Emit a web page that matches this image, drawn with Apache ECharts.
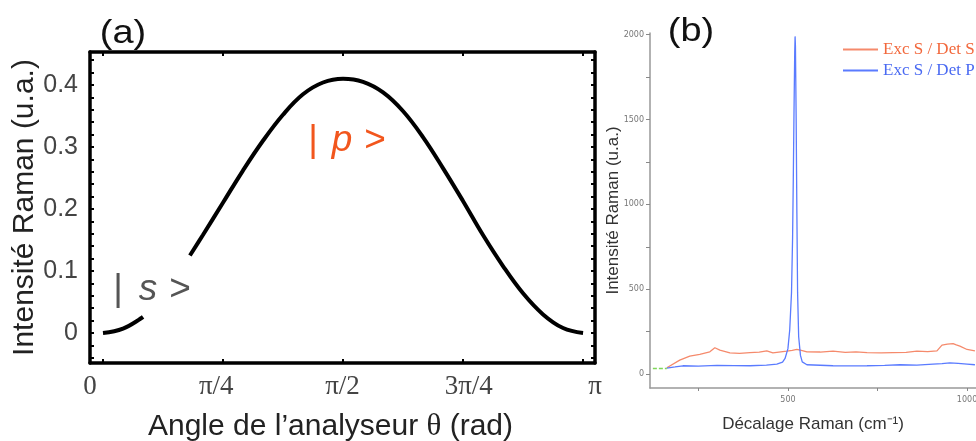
<!DOCTYPE html>
<html>
<head>
<meta charset="utf-8">
<script src="https://cdn.jsdelivr.net/npm/echarts@6/dist/echarts.min.js"></script>
<style>html,body{margin:0;padding:0;background:#fff;}#c{width:976px;height:441px;}</style>
</head>
<body>
<div id="c"></div>
<script>
// ---------- Panel (a) data ----------
const thetaA = [0, 0.131, 0.262, 0.393, 0.569, 0.654, 0.785, 0.916, 1.047, 1.178, 1.309, 1.44, 1.571, 1.702, 1.833, 1.963, 2.094, 2.225, 2.356, 2.487, 2.618, 2.749, 2.880, 3.011, 3.142];
const intensA = [0, 0.007, 0.026, '-', 0.125, 0.158, 0.21, 0.262, 0.31, 0.352, 0.385, 0.404, 0.41, 0.405, 0.388, 0.358, 0.316, 0.266, 0.213, 0.158, 0.108, 0.064, 0.03, 0.008, 0];
const xTickValuesA = [0, 0.7854, 1.5708, 2.3562, 3.1416];
const xTickLabelsA = ['0', 'π/4', 'π/2', '3π/4', 'π'];
const yLabelValuesA = [0, 0.1, 0.2, 0.3, 0.4];
const yTickValuesA = [-0.04, -0.02, 0, 0.02, 0.04, 0.06, 0.08, 0.1, 0.12, 0.14, 0.16, 0.18, 0.2, 0.22, 0.24, 0.26, 0.28, 0.3, 0.32, 0.34, 0.36, 0.38, 0.4, 0.42, 0.44];

// ---------- Panel (b) data ----------
const shiftRed = [162, 198, 226, 254, 282, 296, 310, 338, 365, 394, 420, 441, 458, 480, 497, 512, 525, 540, 553, 590, 626, 660, 690, 721, 760, 793, 830, 860, 890, 916, 930, 945, 961, 970, 980, 1000, 1022];
const intensRed = [37, 82, 106, 116, 131, 155, 141, 125, 122, 127, 129, 137, 125, 131, 135, 140, 145, 138, 131, 130, 135, 128, 131, 127, 125, 127, 128, 135, 132, 137, 171, 176, 180, 172, 165, 145, 137];
const shiftBlue = [162, 185, 207, 250, 302, 350, 394, 440, 469, 485, 492, 500, 505, 510, 513, 515, 517, 519, 520, 521, 523, 525, 527, 530, 535, 540, 553, 590, 626, 680, 721, 770, 813, 860, 905, 930, 952, 975, 1000, 1022];
const intensBlue = [35, 42, 49, 47, 51, 50, 49, 53, 59, 70, 92, 150, 260, 480, 800, 1150, 1550, 1900, 1990, 1930, 1500, 950, 480, 220, 110, 72, 55, 52, 49, 48, 49, 51, 55, 53, 59, 62, 66, 63, 59, 55];
const shiftGreen = [123, 162];
const intensGreen = [33, 33];
const xTickValuesB = [250, 500, 750, 1000];
const xLabelValuesB = [500, 1000];
const yTickValuesB = [0, 250, 500, 750, 1000, 1250, 1500, 1750, 2000];
const yLabelValuesB = [0, 500, 1000, 1500, 2000];

const zip = (xs, ys) => xs.map((x, i) => [x, ys[i]]);

const frameAxis = {
  axisLine: {show: true, onZero: false, lineStyle: {color: '#000', width: 3.5}},
  splitLine: {show: false}
};
const tickA = {show: true, inside: true, length: 4, lineStyle: {color: '#000', width: 2}};

const chart = echarts.init(document.getElementById('c'), null, {renderer: 'canvas'});
chart.setOption({
  backgroundColor: '#fff',
  animation: false,
  grid: [
    {left: 90, top: 52, width: 505, height: 311, outerBoundsMode: 'none', containLabel: false},
    {left: 650, top: 33, width: 326, height: 355, outerBoundsMode: 'none', containLabel: false}
  ],
  xAxis: [
    Object.assign({type: 'value', gridIndex: 0, position: 'bottom', min: -0.085, max: 3.2201,
      axisTick: Object.assign({customValues: xTickValuesA}, tickA),
      axisLabel: {show: false},
      name: 'Angle de l\u2019analyseur {t|θ} (rad)', nameLocation: 'middle', nameGap: 48,
      nameTextStyle: {fontFamily: 'Liberation Sans', fontSize: 30, color: '#222', padding: [0, 24, 0, 0],
        rich: {t: {fontFamily: 'Liberation Serif', fontSize: 31, color: '#222'}}}
    }, frameAxis),
    Object.assign({type: 'value', gridIndex: 0, position: 'top', min: -0.085, max: 3.2201,
      axisTick: Object.assign({customValues: xTickValuesA}, tickA),
      axisLabel: {show: false}}, frameAxis),
    {type: 'value', gridIndex: 0, position: 'bottom', min: 0, max: 3.1416,
      axisLine: {show: false}, axisTick: {show: false}, splitLine: {show: false},
      axisLabel: {show: true, customValues: xTickValuesA, margin: 10,
        fontFamily: 'Liberation Serif', fontSize: 27, color: '#444',
        formatter: v => xTickLabelsA[Math.round(v / 0.7854)]}},
    {type: 'value', gridIndex: 1, min: 115, max: 1025,
      axisLine: {show: true, onZero: false, lineStyle: {color: '#999', width: 1.5}},
      axisTick: {show: true, length: 3, lineStyle: {color: '#888'}, customValues: xTickValuesB},
      axisLabel: {customValues: xLabelValuesB, fontFamily: 'DejaVu Sans', fontSize: 8, color: '#777', margin: 8,
        formatter: v => String(v)},
      splitLine: {show: false},
      name: 'Décalage Raman (cm⁻¹)', nameLocation: 'middle', nameGap: 28,
      nameTextStyle: {fontFamily: 'Liberation Sans', fontSize: 17, color: '#333'}}
  ],
  yAxis: [
    Object.assign({type: 'value', gridIndex: 0, position: 'left', min: -0.0484, max: 0.4532,
      axisTick: Object.assign({customValues: yTickValuesA}, tickA),
      axisLabel: {show: true, customValues: yLabelValuesA, margin: 12, fontFamily: 'Liberation Sans', fontSize: 25, color: '#444'},
      name: 'Intensité Raman (u.a.)', nameLocation: 'middle', nameGap: 50, nameMoveOverlap: false,
      nameTextStyle: {fontFamily: 'Liberation Sans', fontSize: 30, color: '#222'}
    }, frameAxis),
    Object.assign({type: 'value', gridIndex: 0, position: 'right', min: -0.0484, max: 0.4532,
      axisTick: Object.assign({customValues: yTickValuesA}, tickA),
      axisLabel: {show: false}}, frameAxis),
    {type: 'value', gridIndex: 1, min: -82, max: 2010,
      axisLine: {show: true, onZero: false, lineStyle: {color: '#999', width: 1.5}},
      axisTick: {show: true, length: 4, lineStyle: {color: '#888'}, customValues: yTickValuesB},
      axisLabel: {customValues: yLabelValuesB, fontFamily: 'DejaVu Sans', fontSize: 8, color: '#777', margin: 6,
        formatter: v => String(v)},
      splitLine: {show: false},
      name: 'Intensité Raman (u.a.)', nameLocation: 'middle', nameGap: 28, nameMoveOverlap: false,
      nameTextStyle: {fontFamily: 'Liberation Sans', fontSize: 17, color: '#333'}}
  ],
  legend: {
    data: [
      {name: 'Exc S / Det S', textStyle: {color: '#f2683c'}},
      {name: 'Exc S / Det P', textStyle: {color: '#4a6af2'}}
    ],
    orient: 'vertical', left: 843, top: 41, padding: 0, itemGap: 4, itemWidth: 35, itemHeight: 2, icon: 'rect',
    textStyle: {fontFamily: 'Liberation Serif', fontSize: 17},
    selectedMode: false
  },
  series: [
    {type: 'line', name: 'curve', xAxisIndex: 0, yAxisIndex: 0, data: zip(thetaA, intensA),
      smooth: 0.4, showSymbol: false, symbol: 'none', connectNulls: false,
      lineStyle: {color: '#000', width: 4}},
    {type: 'line', name: 'Exc S / Det S', xAxisIndex: 3, yAxisIndex: 2, data: zip(shiftRed, intensRed),
      symbol: 'none', color: '#f58a6c', lineStyle: {color: '#f58a6c', width: 1.3}},
    {type: 'line', name: 'Exc S / Det P', xAxisIndex: 3, yAxisIndex: 2, data: zip(shiftBlue, intensBlue),
      symbol: 'none', color: '#5a7bff', lineStyle: {color: '#5a7bff', width: 1.3}},
    {type: 'line', name: 'base', xAxisIndex: 3, yAxisIndex: 2, data: zip(shiftGreen, intensGreen),
      symbol: 'none', lineStyle: {color: '#7fd65a', width: 1.3, type: [4, 2]}}
  ],
  graphic: [
    {type: 'text', x: 123, y: 34, scaleX: 1.15, style: {text: '(a)', fontFamily: 'Liberation Sans', fontSize: 33, fill: '#111', align: 'center', verticalAlign: 'middle'}},
    {type: 'text', x: 691, y: 32, scaleX: 1.15, style: {text: '(b)', fontFamily: 'Liberation Sans', fontSize: 33, fill: '#111', align: 'center', verticalAlign: 'middle'}},
    // |s>
    {type: 'text', x: 118, y: 290, style: {text: '|', fontFamily: 'Liberation Sans', fontSize: 37, fill: '#555', align: 'center', verticalAlign: 'middle'}},
    {type: 'text', x: 148, y: 290, style: {text: 's', fontFamily: 'Liberation Sans', fontStyle: 'italic', fontSize: 37, fill: '#555', align: 'center', verticalAlign: 'middle'}},
    {type: 'text', x: 180, y: 290, style: {text: '>', fontFamily: 'Liberation Sans', fontSize: 37, fill: '#555', align: 'center', verticalAlign: 'middle'}},
    // |p>
    {type: 'text', x: 313, y: 141, style: {text: '|', fontFamily: 'Liberation Sans', fontSize: 37, fill: '#f2561d', align: 'center', verticalAlign: 'middle'}},
    {type: 'text', x: 342, y: 141, style: {text: 'p', fontFamily: 'Liberation Sans', fontStyle: 'italic', fontSize: 37, fill: '#f2561d', align: 'center', verticalAlign: 'middle'}},
    {type: 'text', x: 375, y: 141, style: {text: '>', fontFamily: 'Liberation Sans', fontSize: 37, fill: '#f2561d', align: 'center', verticalAlign: 'middle'}}
  ]
});
</script>
</body>
</html>
